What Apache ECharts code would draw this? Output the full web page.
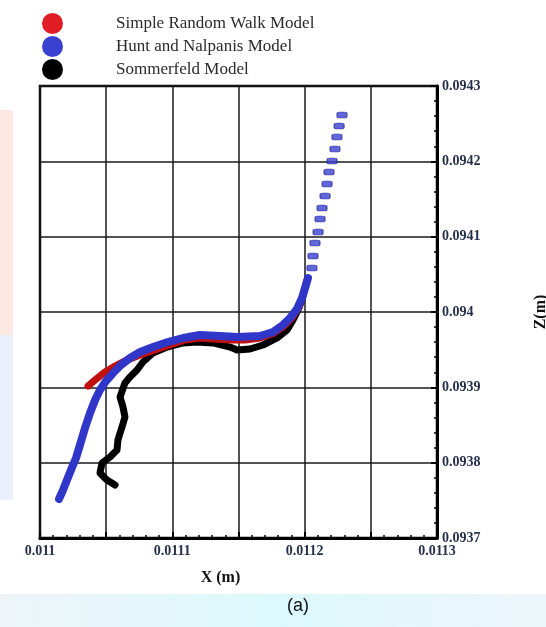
<!DOCTYPE html>
<html><head><meta charset="utf-8">
<script src="https://cdn.jsdelivr.net/npm/echarts@6/dist/echarts.min.js"></script>
<style>html,body{margin:0;padding:0;background:#fff}#c{width:546px;height:627px}</style>
</head><body><div id="c"></div>
<script>
const seriesNames = ['Simple Random Walk Model', 'Hunt and Nalpanis Model', 'Sommerfeld Model'];
const xTickLabels = ['0.011', '0.0111', '0.0112', '0.0113'];
const yTickLabels = ['0.0937', '0.0938', '0.0939', '0.094', '0.0941', '0.0942', '0.0943'];

const randomWalkX = [0.0110363, 0.0110416, 0.0110491, 0.0110567, 0.0110642, 0.0110756, 0.0110869, 0.0110982, 0.0111096, 0.0111209, 0.0111322, 0.0111436, 0.0111549, 0.0111663, 0.0111753, 0.0111836, 0.0111904, 0.0111957, 0.0111988, 0.0112012];
const randomWalkZ = [0.0939018, 0.0939097, 0.0939204, 0.0939283, 0.0939350, 0.0939429, 0.0939496, 0.0939562, 0.0939628, 0.0939655, 0.0939642, 0.0939628, 0.0939628, 0.0939655, 0.0939708, 0.0939801, 0.0939920, 0.0940066, 0.0940226, 0.0940380];

const huntDenseX = [0.0110144, 0.0110174, 0.0110204, 0.0110234, 0.0110272, 0.0110302, 0.0110340, 0.0110378, 0.0110416, 0.0110453, 0.0110499, 0.0110552, 0.0110612, 0.0110680, 0.0110756, 0.0110854, 0.0110945, 0.0111081, 0.0111209, 0.0111360, 0.0111489, 0.0111663, 0.0111761, 0.0111836, 0.0111889, 0.0111942, 0.0111980, 0.0112003, 0.0112025];
const huntDenseZ = [0.0937518, 0.0937637, 0.0937770, 0.0937903, 0.0938062, 0.0938235, 0.0938460, 0.0938659, 0.0938832, 0.0938965, 0.0939084, 0.0939190, 0.0939297, 0.0939389, 0.0939469, 0.0939535, 0.0939589, 0.0939655, 0.0939695, 0.0939681, 0.0939668, 0.0939681, 0.0939735, 0.0939828, 0.0939920, 0.0940040, 0.0940186, 0.0940319, 0.0940451];
const huntSparseX = [0.0112055, 0.0112063, 0.0112078, 0.0112101, 0.0112116, 0.0112131, 0.0112154, 0.0112169, 0.0112184, 0.0112207, 0.0112229, 0.0112244, 0.0112260, 0.0112282];
const huntSparseZ = [0.0940584, 0.0940743, 0.0940916, 0.0941062, 0.0941235, 0.0941381, 0.0941540, 0.0941699, 0.0941858, 0.0942004, 0.0942164, 0.0942323, 0.0942469, 0.0942615];

const sommerfeldX = [0.0110567, 0.0110506, 0.0110453, 0.0110469, 0.0110529, 0.0110582, 0.0110589, 0.0110605, 0.0110620, 0.0110642, 0.0110627, 0.0110605, 0.0110642, 0.0110680, 0.0110733, 0.0110778, 0.0110854, 0.0110960, 0.0111081, 0.0111186, 0.0111307, 0.0111436, 0.0111489, 0.0111587, 0.0111685, 0.0111791, 0.0111867, 0.0111912, 0.0111950, 0.0111980, 0.0112003, 0.0112018];
const sommerfeldZ = [0.0937704, 0.0937770, 0.0937863, 0.0937996, 0.0938075, 0.0938168, 0.0938301, 0.0938394, 0.0938474, 0.0938606, 0.0938739, 0.0938872, 0.0939058, 0.0939137, 0.0939230, 0.0939336, 0.0939456, 0.0939535, 0.0939589, 0.0939602, 0.0939589, 0.0939535, 0.0939496, 0.0939509, 0.0939562, 0.0939655, 0.0939761, 0.0939894, 0.0940027, 0.0940159, 0.0940332, 0.0940425];

const zip = (a, b) => a.map((v, i) => [v, b[i]]);
const SERIF = "'Liberation Serif', 'DejaVu Serif', serif";
const LABEL_COLOR = '#27304a';

const chart = echarts.init(document.getElementById('c'), null, { renderer: 'canvas' });
chart.setOption({
  animation: false,
  backgroundColor: '#ffffff',
  graphic: [
    { type: 'rect', z: -10, shape: { x: 0, y: 110, width: 13, height: 225 }, style: { fill: 'rgba(250,205,195,0.45)' } },
    { type: 'rect', z: -10, shape: { x: 0, y: 335, width: 13, height: 165 }, style: { fill: 'rgba(215,228,245,0.5)' } },
    { type: 'rect', z: -10, shape: { x: 0, y: 594, width: 546, height: 33 },
      style: { fill: new echarts.graphic.LinearGradient(0, 0, 1, 0, [
        { offset: 0, color: 'rgba(225,238,245,0.6)' }, { offset: 0.5, color: 'rgba(210,248,252,0.8)' }, { offset: 1, color: 'rgba(225,240,248,0.6)' }]) } },
    { type: 'text', left: 287, top: 597, style: { text: '(a)', font: "18px 'Liberation Sans', Arial, sans-serif", fill: '#111' } }
  ],
  legend: {
    orient: 'vertical', left: 37, top: 8,
    data: seriesNames,
    icon: 'circle', itemWidth: 21, itemHeight: 21, itemGap: 2,
    textStyle: { fontFamily: SERIF, fontSize: 17, color: '#2a2a2a', padding: [0, 0, 0, 48] }
  },
  grid: { left: 40, right: 109, top: 86, bottom: 89, show: true, borderColor: '#000', borderWidth: 2.5, containLabel: false, outerBoundsMode: 'none' },
  xAxis: {
    type: 'value', min: 0.011, max: 0.0113, interval: 0.00005,
    name: 'X (m)', nameLocation: 'middle', nameGap: 32,
    nameTextStyle: { fontFamily: SERIF, fontWeight: 'bold', fontSize: 16, color: '#111', padding: [0, 36, 0, 0] },
    axisLine: { show: true, lineStyle: { color: '#000', width: 3 } },
    axisTick: { show: true, inside: true, length: 6, lineStyle: { color: '#000', width: 2 } },
    minorTick: { show: true, splitNumber: 5, length: 3, lineStyle: { color: '#000', width: 1.5 } },
    splitLine: { show: true, lineStyle: { color: '#1a1a1a', width: 1.5 } },
    axisLabel: {
      margin: 6, fontFamily: SERIF, fontWeight: 'bold', fontSize: 14, color: LABEL_COLOR,
      formatter: v => { const k = (v - 0.011) / 0.0001; const r = Math.round(k); return Math.abs(k - r) < 1e-6 ? xTickLabels[r] : ''; }
    }
  },
  yAxis: {
    type: 'value', position: 'right', min: 0.0937, max: 0.0943, interval: 0.0001,
    name: 'Z(m)', nameLocation: 'middle', nameGap: 96, nameRotate: 90,
    nameTextStyle: { fontFamily: SERIF, fontWeight: 'bold', fontSize: 16, color: '#111', padding: [0, 0, 20, 0] },
    axisLine: { show: true, lineStyle: { color: '#000', width: 3 } },
    axisTick: { show: true, inside: true, length: 6, lineStyle: { color: '#000', width: 2 } },
    minorTick: { show: true, splitNumber: 5, length: 3, lineStyle: { color: '#000', width: 1.5 } },
    splitLine: { show: true, lineStyle: { color: '#1a1a1a', width: 1.5 } },
    axisLabel: {
      margin: 5, fontFamily: SERIF, fontWeight: 'bold', fontSize: 14, color: LABEL_COLOR,
      formatter: v => { const k = (v - 0.0937) / 0.0001; const r = Math.round(k); return Math.abs(k - r) < 1e-6 ? yTickLabels[r] : ''; }
    }
  },
  series: [
    { name: seriesNames[2], type: 'line', data: zip(sommerfeldX, sommerfeldZ), z: 2, symbol: 'none', color: '#000',
      lineStyle: { color: '#000', width: 7, cap: 'round', join: 'round' } },
    { name: seriesNames[0], type: 'line', data: zip(randomWalkX, randomWalkZ), z: 3, symbol: 'none', color: '#e01c24',
      lineStyle: { color: '#c01010', width: 7, cap: 'round', join: 'round' } },
    { name: seriesNames[1], type: 'line', data: zip(huntDenseX, huntDenseZ), z: 4, symbol: 'none', color: '#3a40d0',
      lineStyle: { color: '#3036c8', width: 8, cap: 'round', join: 'round' } },
    { name: seriesNames[1], type: 'scatter', data: zip(huntSparseX, huntSparseZ), z: 4, symbol: 'roundRect', symbolSize: [10, 6], color: '#3a40d0',
      itemStyle: { color: '#3a40d0', borderColor: '#1e2290', borderWidth: 0.8 } }
  ]
});
</script>
</body></html>
